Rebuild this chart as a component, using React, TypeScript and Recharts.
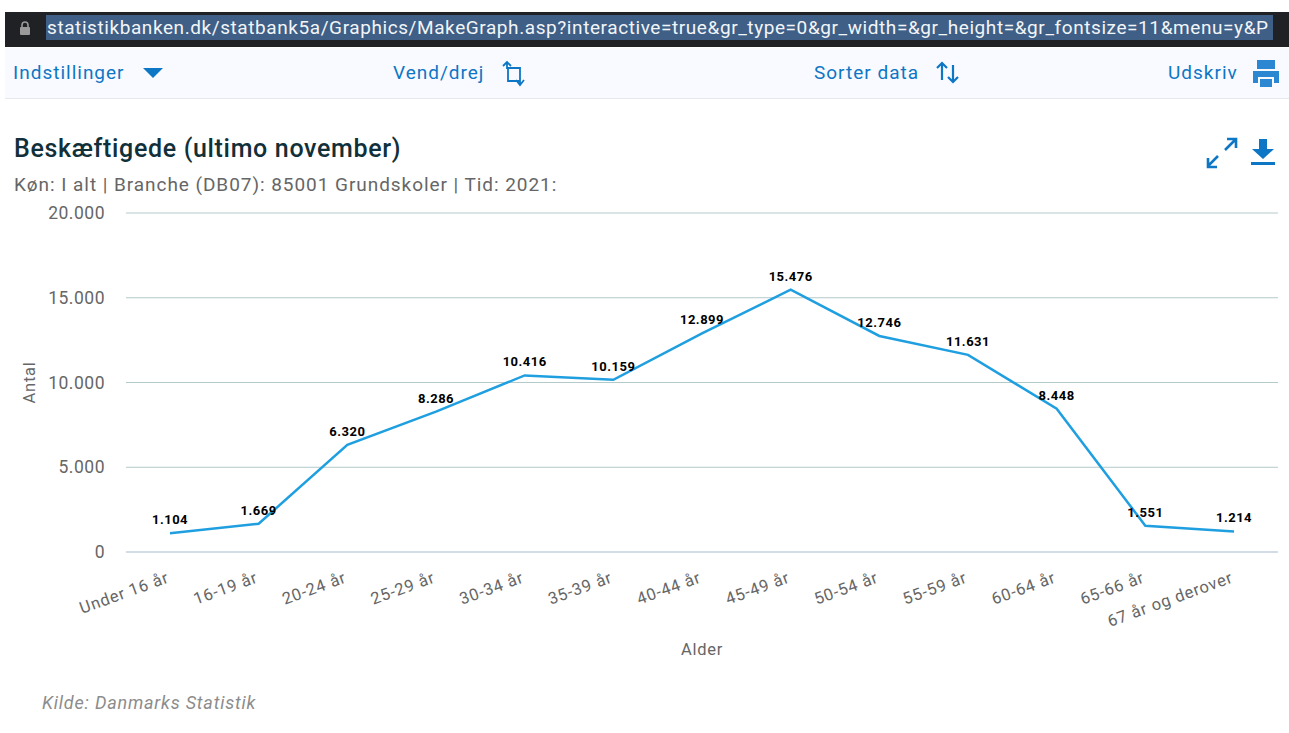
import React from "react";
import { LineChart, Line, XAxis, YAxis, CartesianGrid, LabelList } from "recharts";

const categories = ["Under 16 år","16-19 år","20-24 år","25-29 år","30-34 år","35-39 år","40-44 år","45-49 år","50-54 år","55-59 år","60-64 år","65-66 år","67 år og derover"];
const values = [1104,1669,6320,8286,10416,10159,12899,15476,12746,11631,8448,1551,1214];
const yTicks = [0,5000,10000,15000,20000];
const url = "statistikbanken.dk/statbank5a/Graphics/MakeGraph.asp?interactive=true&gr_type=0&gr_width=&gr_height=&gr_fontsize=11&menu=y&P";
const data = categories.map((c, i) => ({ category: c, value: values[i] }));

const FONT = "Roboto, 'Noto Sans', sans-serif";
const BLUE = "#0d76c5";
const GREY = "#666666";
const fmt = (v: number) => v === 0 ? "0" : String(v).replace(/\B(?=(\d{3})+$)/g, ".");

const abs = (left: number, top: number, extra: React.CSSProperties = {}): React.CSSProperties => ({
  position: "absolute", left, top, whiteSpace: "nowrap", fontFamily: FONT, ...extra,
});

const XTick = ({ x, y, payload }: any) => (
  <text x={x} y={y + 22} textAnchor="end" fontSize={16.5} letterSpacing={0.8} fill={GREY} fontFamily={FONT}
    transform={`rotate(-20 ${x} ${y + 22})`}>{payload.value}</text>
);

const PointLabel = ({ x, y, value }: any) => (
  <text x={x} y={y - 9} textAnchor="middle" fontSize={13} letterSpacing={0.5} fontWeight={700} fill="#000" fontFamily={FONT}>{fmt(value)}</text>
);

const Tool = ({ left, text }: { left: number; text: string }) => (
  <div style={abs(left, 60, { fontSize: 19, letterSpacing: 1, color: BLUE, lineHeight: "26px" })}>{text}</div>
);

export default function App() {
  return (
    <div style={{ position: "absolute", left: 0, top: 0, width: 1289, height: 733, background: "#fff", overflow: "hidden" }}>
      <div style={{ position: "absolute", left: 5, top: 12, width: 1284, height: 35, background: "#1f2124" }} />
      <div style={{ position: "absolute", left: 46, top: 15, width: 1227, height: 25, background: "#3f5f86" }} />
      <svg style={{ position: "absolute", left: 18, top: 20 }} width={14} height={16}>
        <rect x={2} y={7} width={10} height={8} rx={1} fill="#9a9a9a" />
        <path d="M4 7V5a3 3 0 0 1 6 0v2" fill="none" stroke="#9a9a9a" strokeWidth={1.6} />
      </svg>
      <div style={abs(47, 15, { width: 1226, overflow: "hidden", fontSize: 19, letterSpacing: 0.58, color: "#f2f5f8", lineHeight: "25px" })}>{url}</div>

      <div style={{ position: "absolute", left: 5, top: 48, width: 1284, height: 50, background: "#f8faff", borderBottom: "1px solid #e6e8ec" }} />
      <Tool left={13} text="Indstillinger" />
      <svg style={{ position: "absolute", left: 142, top: 66 }} width={22} height={14}><path d="M1 2H21L11 12Z" fill={BLUE} /></svg>
      <Tool left={393} text="Vend/drej" />
      <svg style={{ position: "absolute", left: 502, top: 60 }} width={24} height={28} fill="none" stroke={BLUE} strokeWidth={1.8}>
        <path d="M1 6L5 2L9 6M5 3V8H18V22M14 20L18 25L22 20M18 24V21H6V9" />
      </svg>
      <Tool left={814} text="Sorter data" />
      <svg style={{ position: "absolute", left: 935, top: 60 }} width={26} height={26} fill="none" stroke={BLUE} strokeWidth={2.2}>
        <path d="M7 20V3M2 8L7 3L12 8M18 5V22M13 17L18 22L23 17" />
      </svg>
      <Tool left={1168} text="Udskriv" />
      <svg style={{ position: "absolute", left: 1252, top: 59 }} width={28} height={30}>
        <path d="M5 1H23V10H5Z M1 12H27V24H22V18H6V24H1Z M8 20H20V28H8Z" fill="#2b87d1" />
      </svg>

      <div style={abs(14, 134, { fontSize: 25, fontWeight: 500, color: "#11303a", lineHeight: "30px", letterSpacing: 0.67 })}>Beskæftigede (ultimo november)</div>
      <div style={abs(14, 172, { fontSize: 19, letterSpacing: 0.95, color: GREY, lineHeight: "26px" })}>Køn: I alt | Branche (DB07): 85001 Grundskoler | Tid: 2021:</div>
      <svg style={{ position: "absolute", left: 1206, top: 137 }} width={32} height={32} fill="none" stroke={BLUE} strokeWidth={2.6}>
        <path d="M19 13L29 3M21 2H30V11M2 29L12 19M2 21V30H11" />
      </svg>
      <svg style={{ position: "absolute", left: 1250, top: 138 }} width={26} height={30} fill={BLUE}>
        <path d="M9 1H17V11H24L13 21L2 11H9Z" /><rect x={1} y={24} width={24} height={3} />
      </svg>

      <div style={{ position: "absolute", left: 0, top: 0 }}>
        <LineChart width={1289} height={733} data={data} margin={{ top: 213, right: 11, bottom: 121, left: 26 }}>
          <CartesianGrid horizontal vertical={false} stroke="#b4c9ca" strokeWidth={1} />
          <XAxis dataKey="category" interval={0} height={60} padding={{ left: 44, right: 44 }} tick={<XTick />} tickLine={false}
            axisLine={{ stroke: "#ccd6eb", strokeWidth: 1 }}
            label={{ value: "Alder", position: "insideBottom", offset: -43, fontSize: 16.5, letterSpacing: 0.7, fill: GREY, fontFamily: FONT }} />
          <YAxis width={100} domain={[0, 20000]} ticks={yTicks} tickFormatter={fmt} tickLine={false} axisLine={false} tickMargin={15}
            tick={{ fontSize: 17.5, letterSpacing: 0.5, fill: GREY, fontFamily: FONT }}
            label={{ value: "Antal", angle: -90, position: "insideLeft", offset: 3, fontSize: 16.5, letterSpacing: 0.7, fill: GREY, fontFamily: FONT, style: { textAnchor: "middle" } }} />
          <Line dataKey="value" type="linear" stroke="#1f9fe0" strokeWidth={2.5} dot={false} isAnimationActive={false}>
            <LabelList dataKey="value" content={<PointLabel />} />
          </Line>
        </LineChart>
      </div>

      <div style={abs(42, 691, { fontSize: 18, letterSpacing: 0.8, fontStyle: "italic", color: "#8c8c8c", lineHeight: "24px" })}>Kilde: Danmarks Statistik</div>
    </div>
  );
}
